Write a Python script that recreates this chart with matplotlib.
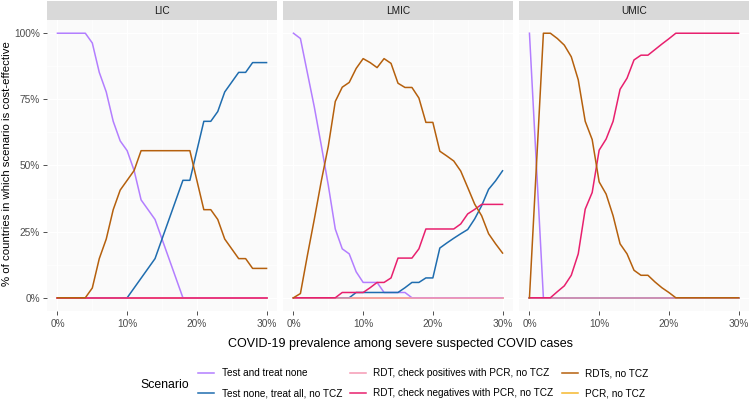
import numpy as np
import matplotlib
matplotlib.use("Agg")
import matplotlib.pyplot as plt
from matplotlib.lines import Line2D

plt.rcParams['font.family'] = ['Liberation Sans', 'DejaVu Sans']

# prevalence grid, 0..30 %
prevalence = list(range(0, 31))

scenarios = ["Test and treat none", "Test none, treat all, no TCZ",
             "RDT, check positives with PCR, no TCZ", "RDT, check negatives with PCR, no TCZ",
             "RDTs, no TCZ", "PCR, no TCZ"]
colors = ["#B37EFF", "#1F6DAF", "#F59AB4", "#E8206E", "#B5600D", "#F5B82E"]

panels = ["LIC", "LMIC", "UMIC"]

# LIC (% of countries)
lic_none = [100, 100, 100, 100, 100, 96.3, 85.2, 77.8, 66.7, 59.3, 55.6, 48.1, 37, 33.3, 29.6, 22.2,
            14.8, 7.4, 0, 0, 0, 0, 0, 0, 0, 0, 0, 0, 0, 0, 0]
lic_all = [0, 0, 0, 0, 0, 0, 0, 0, 0, 0, 0, 3.7, 7.4, 11.1, 14.8, 22.2, 29.6, 37, 44.4, 44.4, 55.6,
           66.7, 66.7, 70.4, 77.8, 81.5, 85.2, 85.2, 88.9, 88.9, 88.9]
lic_pos = [0] * 31
lic_neg = [0] * 31
lic_rdt = [0, 0, 0, 0, 0, 3.7, 14.8, 22.2, 33.3, 40.7, 44.4, 48.1, 55.6, 55.6, 55.6, 55.6, 55.6, 55.6,
           55.6, 55.6, 44.4, 33.3, 33.3, 29.6, 22.2, 18.5, 14.8, 14.8, 11.1, 11.1, 11.1]
lic_pcr = [0] * 31

# LMIC
lmic_none = [100, 98, 85, 72, 57.5, 42.5, 26, 18.5, 16.6, 9.8, 5.8, 5.8, 5.8, 2, 2, 2, 2, 0, 0, 0,
             0, 0, 0, 0, 0, 0, 0, 0, 0, 0, 0]
lmic_all = [0, 0, 0, 0, 0, 0, 0, 0, 0, 2, 2, 2, 2, 2, 2, 2, 3.8, 5.8, 5.8, 7.5, 7.5, 18.8, 20.7, 22.5,
            24.2, 25.8, 29.8, 34.8, 41, 44.2, 48]
lmic_pos = [0] * 31
lmic_neg = [0, 0, 0, 0, 0, 0, 0, 2, 2, 2, 2, 3.8, 5.8, 5.8, 7.5, 15, 15, 15, 18.5, 26, 26, 26, 26,
            26, 27.9, 31.7, 33.4, 35.3, 35.3, 35.3, 35.3]
lmic_rdt = [0, 1.6, 16, 29.8, 44.2, 57.3, 74.2, 79.6, 81.4, 86.7, 90.4, 88.9, 87, 90.4, 88.6, 81.1,
            79.5, 79.5, 75.5, 66.3, 66.3, 55.4, 53.6, 51.7, 47.9, 41.7, 35.4, 31, 24.2, 20.4, 16.9]
lmic_pcr = [0] * 31

# UMIC
umic_none = [100, 50] + [0] * 29
umic_all = [0] * 31
umic_pos = [0] * 31
umic_neg = [0, 0, 0, 0, 2.3, 4.5, 8.5, 16.6, 33.5, 39.8, 55.8, 60, 66.7, 78.8, 83, 89.9, 91.7, 91.7,
            93.8, 95.9, 97.9] + [100] * 10
umic_rdt = [0, 50, 100, 100, 98, 95.5, 91.1, 82.4, 66.7, 59.8, 43.8, 39.2, 31, 20.4, 16.6, 10.4, 8.5,
            8.5, 6, 3.8, 2] + [0] * 10
umic_pcr = [0] * 31

data = {
    "LIC": [lic_none, lic_all, lic_pos, lic_neg, lic_rdt, lic_pcr],
    "LMIC": [lmic_none, lmic_all, lmic_pos, lmic_neg, lmic_rdt, lmic_pcr],
    "UMIC": [umic_none, umic_all, umic_pos, umic_neg, umic_rdt, umic_pcr],
}

W, H = 750, 403
fig = plt.figure(figsize=(W / 100, H / 100), dpi=100)

# panel pixel boxes (left, right)
panel_x = [(47, 277), (283, 513), (519, 749)]
top, strip_h, bottom = 1, 19, 311

# draw PCR first so it sits under the other zero lines
draw_order = [5, 0, 1, 2, 3, 4]

for i, (name, (x0, x1)) in enumerate(zip(panels, panel_x)):
    ax = fig.add_axes([x0 / W, 1 - bottom / H, (x1 - x0) / W, (bottom - top - strip_h) / H])
    ax.set_facecolor("#FAFAFA")
    for k in draw_order:
        ax.plot(prevalence, data[name][k], color=colors[k], lw=1.1, solid_joinstyle='round')
    ax.set_xlim(-1.5, 31.5)
    ax.set_ylim(-5, 105)
    ax.set_xticks([0, 10, 20, 30])
    ax.set_xticklabels(["0%", "10%", "20%", "30%"])
    ax.set_xticks([5, 15, 25], minor=True)
    ax.set_yticks([0, 25, 50, 75, 100])
    ax.set_yticks([12.5, 37.5, 62.5, 87.5], minor=True)
    ax.grid(which='major', color='white', lw=0.9)
    ax.grid(which='minor', color='white', lw=0.5)
    ax.set_axisbelow(True)
    for s in ax.spines.values():
        s.set_visible(False)
    ax.tick_params(axis='x', which='major', length=3, width=0.6, color='#333333',
                   labelsize=7.3, labelcolor='#4D4D4D', pad=3)
    ax.tick_params(which='minor', length=0)
    if i == 0:
        ax.set_yticklabels(["0%", "25%", "50%", "75%", "100%"])
        ax.tick_params(axis='y', which='major', length=3, width=0.6, color='#333333',
                       labelsize=7.3, labelcolor='#4D4D4D', pad=2)
    else:
        ax.tick_params(axis='y', which='major', length=0, labelleft=False)

    # strip
    sax = fig.add_axes([x0 / W, 1 - (top + strip_h) / H, (x1 - x0) / W, strip_h / H])
    sax.set_facecolor("#D9D9D9")
    sax.set_xticks([])
    sax.set_yticks([])
    for s in sax.spines.values():
        s.set_visible(False)
    sax.text(0.5, 0.5, name, ha='center', va='center', fontsize=7.3, color='#1A1A1A',
             transform=sax.transAxes)

fig.text(7 / W, 1 - 164 / H, "% of countries in which scenario is cost-effective",
         rotation=90, ha='center', va='center', fontsize=8.2)
fig.text(400 / W, 1 - 344 / H, "COVID-19 prevalence among severe suspected COVID cases",
         ha='center', va='center', fontsize=9)

handles = [Line2D([], [], color=c, lw=1.1) for c in colors]
fig.legend(handles, scenarios, ncol=3, loc='center left',
           bbox_to_anchor=(198 / W, 1 - 383 / H), frameon=False, fontsize=7.2,
           handlelength=1.6, handletextpad=0.75, columnspacing=0.8, labelspacing=1.0,
           borderpad=0, borderaxespad=0)
fig.text(140 / W, 1 - 385 / H, "Scenario", ha='left', va='center', fontsize=8.8)

fig.savefig("out.png", dpi=100)
